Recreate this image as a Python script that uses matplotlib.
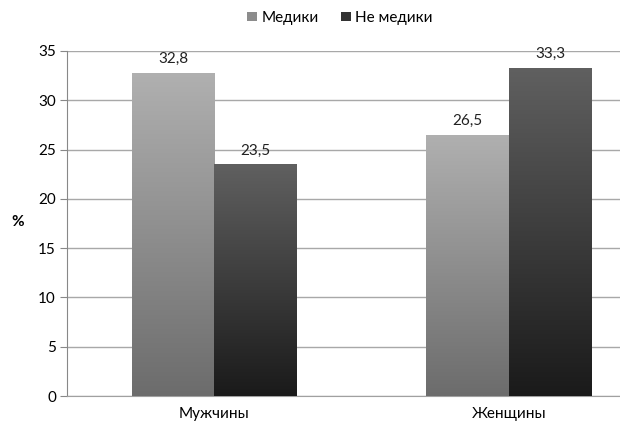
import matplotlib.pyplot as plt
import numpy as np
from matplotlib.patches import Patch

plt.rcParams['font.family'] = ['Lato', 'DejaVu Sans']

categories = ['Мужчины', 'Женщины']
series_names = ['Медики', 'Не медики']
medics = [32.8, 26.5]
non_medics = [23.5, 33.3]
y_ticks = [0, 5, 10, 15, 20, 25, 30, 35]

# top/bottom colours of the vertical gradient for each series
gradients = [('#b0b0b0', '#6c6c6c'), ('#606060', '#1a1a1a')]
legend_colors = ['#8c8c8c', '#333333']

fig = plt.figure(figsize=(6.2, 4.26), dpi=100)
# plot area runs past the right edge of the figure
ax = fig.add_axes([67 / 620, 30 / 426, 589 / 620, 345 / 426])

x = np.arange(len(categories))
width = 0.28


def shade(bars, top, bottom):
    grad = np.linspace(0, 1, 256).reshape(-1, 1)
    from matplotlib.colors import LinearSegmentedColormap
    cmap = LinearSegmentedColormap.from_list('g', [top, bottom])
    for b in bars:
        x0, y0 = b.get_x(), b.get_y()
        w, h = b.get_width(), b.get_height()
        im = ax.imshow(grad, cmap=cmap, aspect='auto', extent=(x0, x0 + w, y0, y0 + h),
                       origin='upper', zorder=3)
        im.set_clip_path(b)
        b.set_facecolor('none')


for i, (vals, off) in enumerate([(medics, -width / 2), (non_medics, width / 2)]):
    bars = ax.bar(x + off, vals, width, zorder=2, edgecolor='none')
    shade(bars, *gradients[i])
    for xi, v in zip(x + off, vals):
        ax.text(xi, v + 0.7, f'{v:.1f}'.replace('.', ','), ha='center', va='bottom',
                fontsize=11, color='#222222')

ax.set_xlim(-0.5, 1.5)
ax.set_ylim(0, 35)
ax.set_yticks(y_ticks)
ax.set_xticks(x)
ax.set_xticklabels(categories, fontsize=11)
ax.tick_params(axis='y', labelsize=11, length=5, color='#888888', pad=3)
ax.tick_params(axis='x', length=0, pad=8)
ax.grid(axis='y', color='#a8a8a8', linewidth=1, zorder=0)
for s in ['top', 'right']:
    ax.spines[s].set_visible(False)
ax.spines['left'].set_color('#888888')
ax.spines['bottom'].set_color('#a0a0a0')

fig.text(18 / 620, 1 - 222 / 426, '%', fontsize=11, fontweight='bold', ha='center', va='center')

handles = [Patch(facecolor=c, edgecolor='none') for c in legend_colors]
fig.legend(handles, series_names, loc='center', bbox_to_anchor=(340 / 620, 1 - 18 / 426),
           ncol=2, frameon=False, fontsize=11, handlelength=0.6, handleheight=0.6,
           handletextpad=0.3, columnspacing=1.5)

fig.savefig('out.png', dpi=100)
